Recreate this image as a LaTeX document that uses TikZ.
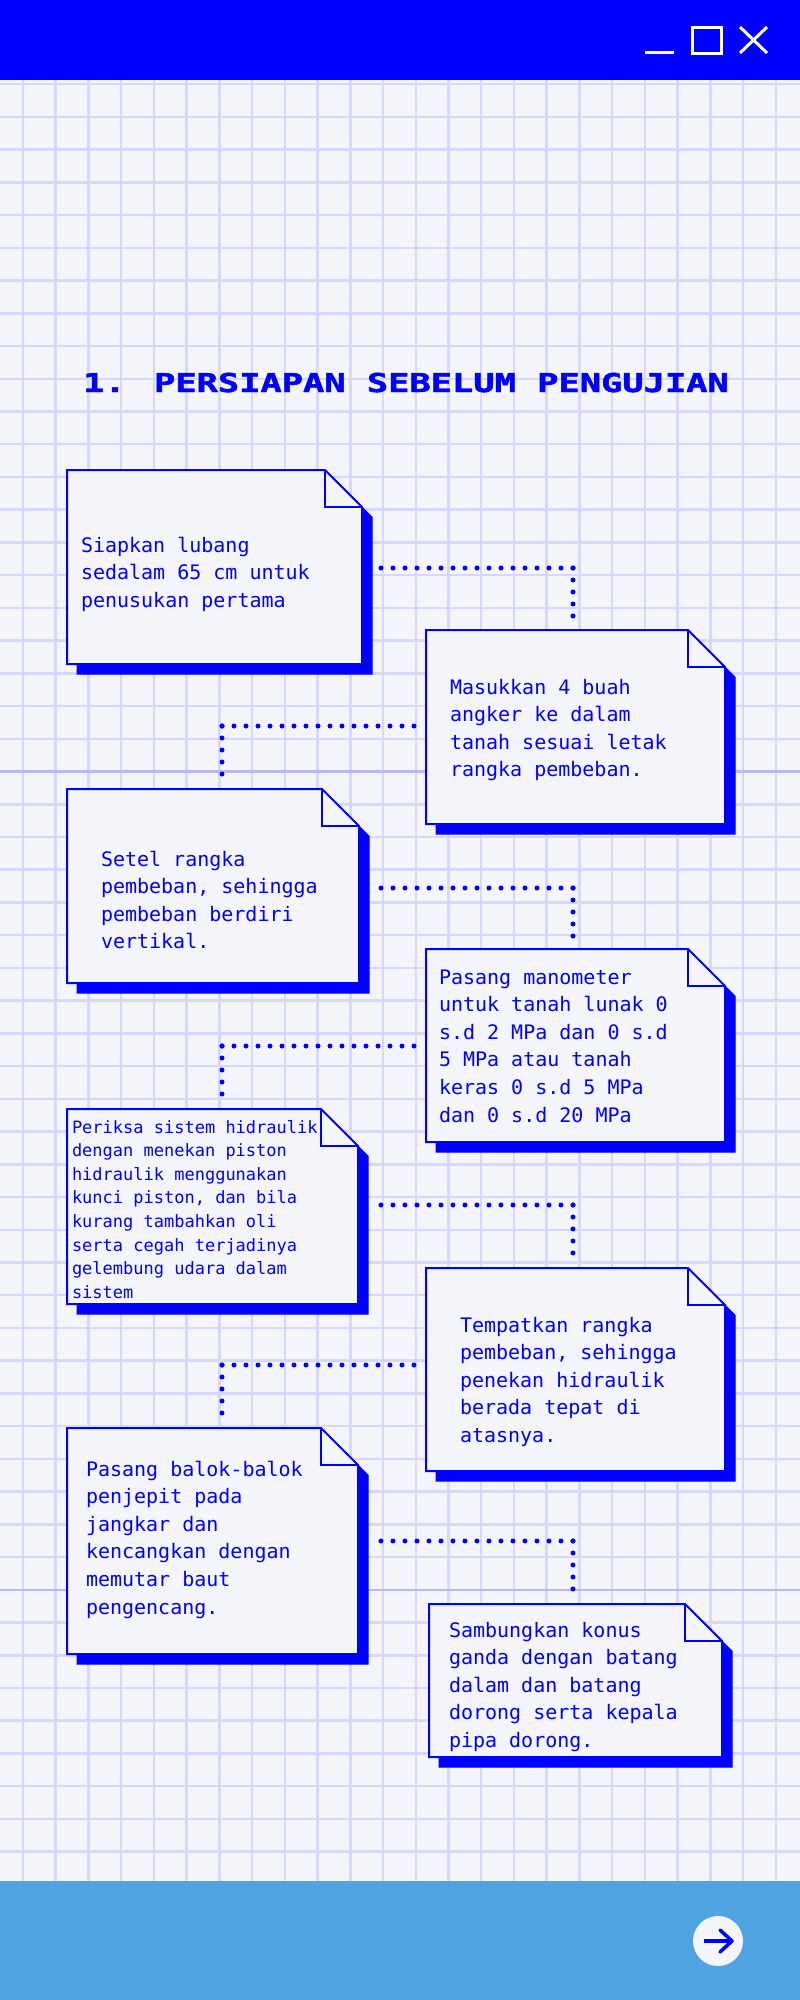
\documentclass[tikz,border=0pt]{standalone}
\usepackage{fontspec}
\newfontfamily\bodyfont{DejaVu Sans Mono}
\newfontfamily\titlefont[BoldFeatures={FakeBold=1.6}]{DejaVu Sans Mono}
\usetikzlibrary{calc}
\definecolor{bg}{HTML}{F4F5FB}
\definecolor{gridc}{HTML}{D7D7FA}
\definecolor{gridd}{HTML}{B9B9F2}
\definecolor{pblue}{HTML}{0000FF}
\definecolor{barblue}{HTML}{4FA3E0}
\tikzset{
  boxnode/.style={draw=none, inner sep=0pt, outer sep=0pt, rectangle},
  txt/.style={inner sep=0pt, outer sep=0pt, text=pblue, align=left, anchor=base west, font=\bodyfont\fontsize{20}{27.6}\selectfont},
  txtsmall/.style={txt, font=\bodyfont\fontsize{17}{23.6}\selectfont},
  dotline/.style={pblue, line width=5pt, line cap=round, dash pattern=on 0pt off 12pt},
  gridline/.style={gridc, line width=2.5pt},
  icon/.style={white, line width=3pt}
}
\newcommand{\notebox}[5]{%
  \node[boxnode, minimum width=#4pt, minimum height=#5pt, anchor=north west] (#1) at (#2,#3) {};
  \filldraw[fill=pblue, draw=pblue, line width=1pt] ($(#1.north west)+(10,10)$) -- ($(#1.north east)+(-27,10)$) -- ($(#1.north east)+(10,47)$) -- ($(#1.south east)+(10,10)$) -- ($(#1.south west)+(10,10)$) -- cycle;
  \filldraw[fill=bg, draw=pblue, line width=2pt] (#1.north west) -- ($(#1.north east)+(-37,0)$) -- ($(#1.north east)+(0,37)$) -- (#1.south east) -- (#1.south west) -- cycle;
  \draw[pblue, line width=2pt] ($(#1.north east)+(-37,0)$) -- ($(#1.north east)+(-37,37)$) -- ($(#1.north east)+(0,37)$);
}
\begin{document}
\begin{tikzpicture}[x=1pt,y=-1pt]
\useasboundingbox (0,0) rectangle (800,2000);
\fill[bg] (0,0) rectangle (800,2000);
% grid
\foreach \k in {0,...,23} \draw[gridline] ({23+32.73*\k},80) -- ({23+32.73*\k},1881);
\foreach \k in {0,...,54} \draw[gridline] (0,{84.2+32.73*\k}) -- (800,{84.2+32.73*\k});
\draw[gridd, line width=2.5pt] (0,771.5) -- (800,771.5);
\draw[gridd, line width=2.5pt] (0,1589.8) -- (800,1589.8);
% top bar
\fill[pblue] (0,0) rectangle (800,80);
\draw[icon] (645,52) -- (674,52);
\draw[icon] (692,27) rectangle (721,53);
\draw[icon] (740,27) -- (767,53);
\draw[icon] (740,53) -- (767,27);
% bottom bar
\fill[barblue] (0,1881) rectangle (800,2000);
\node[circle, fill=bg, minimum size=50pt, inner sep=0pt] (nextbtn) at (718,1941) {};
\draw[pblue, line width=3.5pt] (704,1941) -- (731,1941);
\draw[pblue, line width=3.5pt, line cap=round, line join=round] (720,1930) -- (732,1941) -- (720,1952);
% title
\node[anchor=base, inner sep=0pt, text=pblue] (title) at (406,392) {\scalebox{1.36}[1]{\titlefont\bfseries\fontsize{26}{26}\selectfont 1. PERSIAPAN SEBELUM PENGUJIAN}};
% boxes
\notebox{b1}{67}{470}{295}{194}
\notebox{b2}{426}{630}{299}{194}
\notebox{b3}{67}{789}{292}{194}
\notebox{b4}{426}{949}{299}{193}
\notebox{b5}{67}{1109}{291}{195}
\notebox{b6}{426}{1268}{299}{203}
\notebox{b7}{67}{1428}{291}{226}
\notebox{b8}{429}{1604}{293}{153}
% texts (anchored at the baseline of the last line)
\node[txt] (t1) at (81,607.2) {Siapkan lubang\\sedalam 65 cm untuk\\penusukan pertama};
\node[txt] (t2) at (450,776.8) {Masukkan 4 buah\\angker ke dalam\\tanah sesuai letak\\rangka pembeban.};
\node[txt] (t3) at (101,948.8) {Setel rangka\\pembeban, sehingga\\pembeban berdiri\\vertikal.};
\node[txt] (t4) at (439,1122) {Pasang manometer\\untuk tanah lunak 0\\s.d 2 MPa dan 0 s.d\\5 MPa atau tanah\\keras 0 s.d 5 MPa\\dan 0 s.d 20 MPa};
\node[txtsmall] (t5) at (72,1298.2) {Periksa sistem hidraulik\\dengan menekan piston\\hidraulik menggunakan\\kunci piston, dan bila\\kurang tambahkan oli\\serta cegah terjadinya\\gelembung udara dalam\\sistem};
\node[txt] (t6) at (460,1442.4) {Tempatkan rangka\\pembeban, sehingga\\penekan hidraulik\\berada tepat di\\atasnya.};
\node[txt] (t7) at (86,1614) {Pasang balok-balok\\penjepit pada\\jangkar dan\\kencangkan dengan\\memutar baut\\pengencang.};
\node[txt] (t8) at (449,1747.4) {Sambungkan konus\\ganda dengan batang\\dalam dan batang\\dorong serta kepala\\pipa dorong.};
% connectors
\coordinate (c1) at (573,568);
\coordinate (c2) at (222,726);
\coordinate (c3) at (573,888);
\coordinate (c4) at (222,1046);
\coordinate (c5) at (573,1205);
\coordinate (c6) at (222,1365);
\coordinate (c7) at (573,1541);
\draw[dotline] (c1) -- ($(b1.east |- c1)+(17,0)$);
\draw[dotline] (c1) -- ($(c1 |- b2.north)+(0,-12)$);
\draw[dotline] (c2) -- ($(b2.west |- c2)+(-9,0)$);
\draw[dotline] (c2) -- ($(c2 |- b3.north)+(0,-12)$);
\draw[dotline] (c3) -- ($(b3.east |- c3)+(20,0)$);
\draw[dotline] (c3) -- ($(c3 |- b4.north)+(0,-12)$);
\draw[dotline] (c4) -- ($(b4.west |- c4)+(-9,0)$);
\draw[dotline] (c4) -- ($(c4 |- b5.north)+(0,-12)$);
\draw[dotline] (c5) -- ($(b5.east |- c5)+(21,0)$);
\draw[dotline] (c5) -- ($(c5 |- b6.north)+(0,-12)$);
\draw[dotline] (c6) -- ($(b6.west |- c6)+(-9,0)$);
\draw[dotline] (c6) -- ($(c6 |- b7.north)+(0,-12)$);
\draw[dotline] (c7) -- ($(b7.east |- c7)+(21,0)$);
\draw[dotline] (c7) -- ($(c7 |- b8.north)+(0,-12)$);
\end{tikzpicture}
\end{document}
